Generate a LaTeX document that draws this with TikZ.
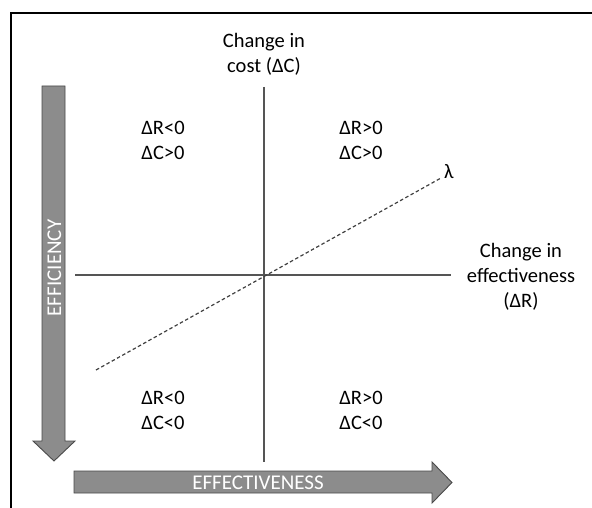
\documentclass[tikz,border=0pt]{standalone}
\usepackage{fontspec}
\setmainfont{Carlito}
\usepackage{xcolor}
\definecolor{arrowfill}{HTML}{8C8C8C}
\definecolor{arrowline}{HTML}{4A4A4A}
\definecolor{axisgray}{HTML}{555555}
\usepackage{tikz}
\usetikzlibrary{positioning,calc}

\begin{document}
\begin{tikzpicture}[x=1pt, y=-1pt,
    lbl/.style={font=\fontsize{20.5}{25}\selectfont, align=center, inner sep=0pt},
    axis/.style={draw=axisgray, line width=1.4pt},
    ratio/.style={draw=black!75, line width=1.2pt, dash pattern=on 3.5pt off 2.5pt},
    bigarrow/.style={fill=arrowfill, draw=arrowline, line width=0.9pt, line join=miter},
    arrowtext/.style={font=\fontsize{21}{22}\selectfont, text=white, inner sep=0pt}]
  \useasboundingbox (0,0) rectangle (592,508);
  % frame
  \draw[line width=1.3pt] (592,13) -- (11,13) -- (11,508);
  % axes
  \coordinate (top) at (264,87);
  \coordinate (bottom) at (264,462);
  \coordinate (left) at (75,275);
  \coordinate (right) at (451,275);
  \draw[axis] (top) -- (bottom);
  \draw[axis] (left) -- (right);
  \node[lbl] (costlbl) at (264,54) {Change in\\cost (ΔC)};
  \node[lbl] (efflbl) at (521,277) {Change in\\effectiveness\\(ΔR)};
  % threshold line
  \coordinate (lamlow) at (96,370);
  \coordinate (lamhigh) at (441,178);
  \draw[ratio] (lamlow) -- (lamhigh);
  \node[lbl, anchor=west] (lambda) at (444,172) {λ};
  % quadrants
  \node[lbl] (nw) at (163,140) {ΔR<0\\ΔC>0};
  \node[lbl] (ne) at (361,140) {ΔR>0\\ΔC>0};
  \node[lbl] (sw) at (163,410) {ΔR<0\\ΔC<0};
  \node[lbl] (se) at (361,410) {ΔR>0\\ΔC<0};
  % efficiency and effectiveness arrows
  \draw[bigarrow] (42,86) -- (65,86) -- (65,441) -- (75,441) -- (54,461)
    -- (33,441) -- (42,441) -- cycle;
  \node[arrowtext, rotate=90] (efficiency) at (54.5,268) {EFFICIENCY};
  \draw[bigarrow] (74,471) -- (432,471) -- (432,462) -- (452,482.5)
    -- (432,503) -- (432,493) -- (74,493) -- cycle;
  \node[arrowtext] (effectiveness) at (258,482.5) {EFFECTIVENESS};
\end{tikzpicture}
\end{document}
